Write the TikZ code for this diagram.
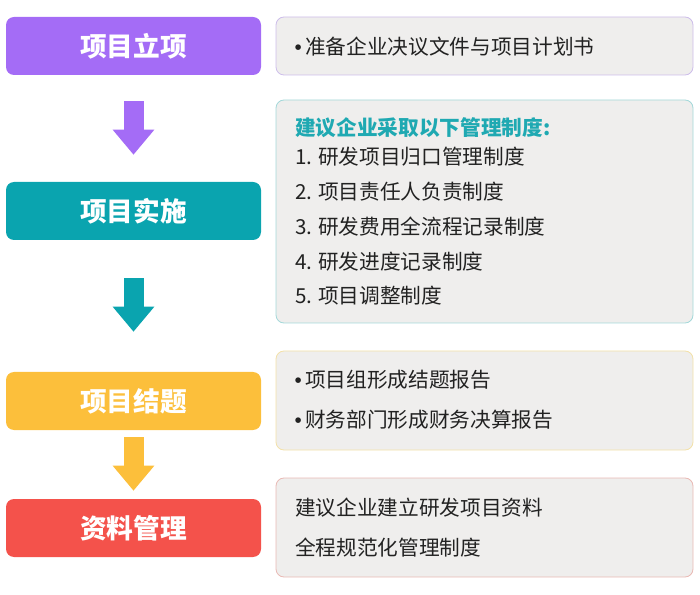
\documentclass[tikz,border=0pt]{standalone}
\usepackage{fontspec}
\setmainfont{Noto Sans CJK SC}
\newfontfamily\bulfont{Liberation Sans}
\usetikzlibrary{arrows.meta}
\definecolor{cpurple}{HTML}{A46CF6}
\definecolor{cteal}{HTML}{0AA4AF}
\definecolor{cyellow}{HTML}{FCBF3B}
\definecolor{cred}{HTML}{F4524B}
\definecolor{bpurple}{HTML}{CDBDEA}
\definecolor{bteal}{HTML}{A3D8D9}
\definecolor{byellow}{HTML}{F3E1A8}
\definecolor{bred}{HTML}{E9B9B4}
\definecolor{panelfill}{HTML}{EFEEED}
\definecolor{headteal}{HTML}{1FA9B2}
\definecolor{txtc}{HTML}{222222}
\tikzset{
  stage/.style={rounded corners=6pt, minimum width=191.25pt, minimum height=43.5pt,
    text=white, font=\fontsize{20}{24}\selectfont\bfseries, inner sep=0pt},
  panel/.style={draw, line width=0.6pt, fill=panelfill, rounded corners=6pt,
    minimum width=312.75pt, inner sep=0pt},
  txt/.style={anchor=west, inner sep=0pt, text=txtc, font=\fontsize{15.5}{18}\selectfont},
  flow/.style={line width=15pt, -{Triangle[width=30pt,length=18.75pt]}},
}
\newcommand{\numb}[1]{\makebox[17.25pt][l]{#1}}
\newcommand{\bul}{\makebox[7.5pt][l]{\bulfont\hspace{-0.5pt}•}}
\begin{document}
\begin{tikzpicture}[x=0.75pt,y=-0.75pt]
\useasboundingbox (0,0) rectangle (700,595);
% left stages
\node[stage, fill=cpurple] (s1) at (133.5,46) {项目立项};
\node[stage, fill=cteal] (s2) at (133.5,211) {项目实施};
\node[stage, fill=cyellow] (s3) at (133.5,401) {项目结题};
\node[stage, fill=cred] (s4) at (133.5,528) {资料管理};
% arrows
\draw[flow, cpurple, shorten <=19.5pt, shorten >=20.25pt] (s1) -- (s2);
\draw[flow, cteal, shorten <=28.5pt, shorten >=30pt] (s2) -- (s3);
\draw[flow, cyellow, shorten <=5.25pt, shorten >=6pt] (s3) -- (s4);
% right panels
\node[panel, draw=bpurple, minimum height=43.5pt] (p1) at (484.5,46) {};
\node[panel, draw=bteal, minimum height=167.25pt] (p2) at (484.5,211.5) {};
\node[panel, draw=byellow, minimum height=74.25pt] (p3) at (484.5,400.5) {};
\node[panel, draw=bred, minimum height=74.25pt] (p4) at (484.5,527.5) {};
% texts
\node[txt] (t1) at (295,47) {\bul 准备企业决议文件与项目计划书};
\node[txt, text=headteal, font=\fontsize{15.5}{18}\selectfont\bfseries] (h2) at (295,128) {建议企业采取以下管理制度:};
\node[txt] (t21) at (295,157) {\numb{1.}研发项目归口管理制度};
\node[txt] (t22) at (295,191.5) {\numb{2.}项目责任人负责制度};
\node[txt] (t23) at (295,226.5) {\numb{3.}研发费用全流程记录制度};
\node[txt] (t24) at (295,261.5) {\numb{4.}研发进度记录制度};
\node[txt] (t25) at (295,295.5) {\numb{5.}项目调整制度};
\node[txt] (t31) at (295,380) {\bul 项目组形成结题报告};
\node[txt] (t32) at (295,420) {\bul 财务部门形成财务决算报告};
\node[txt] (t41) at (295,508) {建议企业建立研发项目资料};
\node[txt] (t42) at (295,548) {全程规范化管理制度};
\end{tikzpicture}
\end{document}
